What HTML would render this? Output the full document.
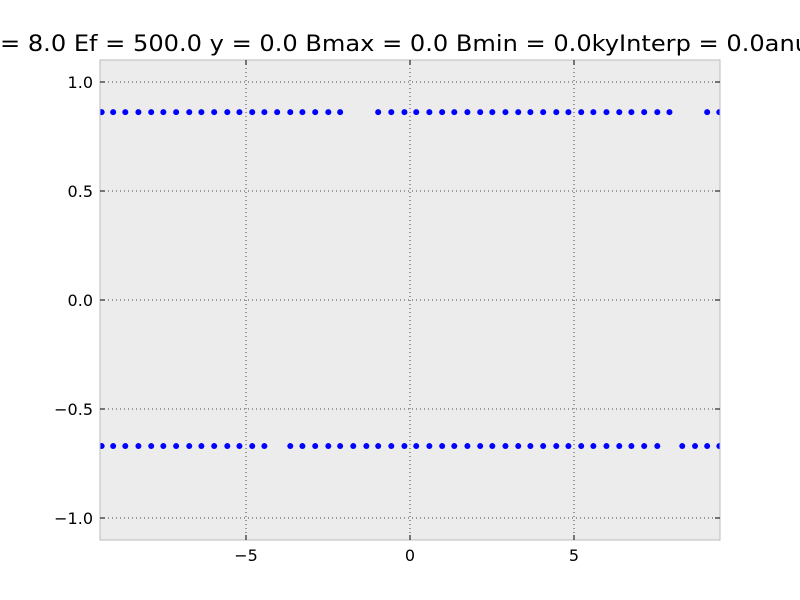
<!DOCTYPE html>
<html><head><meta charset="utf-8"><style>
html,body{margin:0;padding:0;background:#fff;}
svg{display:block;font-family:"DejaVu Sans","Liberation Sans",sans-serif;}
</style></head><body>
<svg id="chart" width="800" height="600" xmlns="http://www.w3.org/2000/svg">
<rect width="800" height="600" fill="#fff"/>
<text x="0" y="51" font-size="22" textLength="810" lengthAdjust="spacingAndGlyphs" fill="#000">= 8.0 Ef = 500.0 y = 0.0 Bmax = 0.0 Bmin = 0.0kyInterp = 0.0anu</text>
<rect x="100" y="60" width="620" height="480" fill="#ececec"/>
<g id="grid"></g>
<g id="dots"></g>
<rect x="100" y="60" width="620" height="480" fill="none" stroke="#bbb" stroke-width="1"/>
<g id="ticks"></g>
</svg>
<script>
const topX = [-9.40,-9.05,-8.68,-8.28,-7.89,-7.52,-7.13,-6.73,-6.36,-5.97,-5.57,-5.20,-4.81,-4.44,-4.05,-3.65,-3.28,-2.89,-2.49,-2.13,-0.97,-0.57,-0.17,0.19,0.59,0.98,1.35,1.75,2.14,2.51,2.91,3.30,3.67,4.06,4.46,4.83,5.22,5.59,5.99,6.38,6.75,7.14,7.54,7.91,9.06,9.43];
const topY = 0.862;
const botX = [-9.40,-9.05,-8.68,-8.28,-7.89,-7.52,-7.13,-6.73,-6.36,-5.97,-5.57,-5.20,-4.81,-4.44,-3.65,-3.28,-2.89,-2.49,-2.13,-1.73,-1.33,-0.97,-0.57,-0.17,0.19,0.59,0.98,1.35,1.75,2.14,2.51,2.91,3.30,3.67,4.06,4.46,4.83,5.22,5.59,5.99,6.38,6.75,7.14,7.54,8.30,8.69,9.06,9.43];
const botY = -0.67;
const xTicks = [-5, 0, 5];
const xTickLabels = ["\u22125", "0", "5"];
const yTicks = [1.0, 0.5, 0.0, -0.5, -1.0];
const yTickLabels = ["1.0", "0.5", "0.0", "\u22120.5", "\u22121.0"];

const NS = "http://www.w3.org/2000/svg";
const sx = v => 410 + v * 32.8;
const sy = v => 300 - v * 218;
function mk(tag, attrs, parent) {
  const e = document.createElementNS(NS, tag);
  for (const k in attrs) e.setAttribute(k, attrs[k]);
  parent.appendChild(e);
  return e;
}
const grid = document.getElementById('grid');
const ticks = document.getElementById('ticks');
const dots = document.getElementById('dots');
xTicks.forEach((t, i) => {
  const x = sx(t);
  const g = mk('line', {x1:x, x2:x, y1:60, y2:540, stroke:'#444', 'stroke-width':1, 'stroke-dasharray':'1,3'}, grid);
  
  
  mk('line', {x1:x, x2:x, y1:540, y2:535, stroke:'#000'}, ticks);
  mk('line', {x1:x, x2:x, y1:60, y2:65, stroke:'#000'}, ticks);
  const l = mk('text', {x:x, y:561, 'font-size':16, 'text-anchor':'middle'}, ticks);
  l.textContent = xTickLabels[i];
  
  
});
yTicks.forEach((t, i) => {
  const y = sy(t);
  const g = mk('line', {x1:100, x2:720, y1:y, y2:y, stroke:'#444', 'stroke-width':1, 'stroke-dasharray':'1,3'}, grid);
  
  
  mk('line', {x1:100, x2:105, y1:y, y2:y, stroke:'#000'}, ticks);
  mk('line', {x1:715, x2:720, y1:y, y2:y, stroke:'#000'}, ticks);
  const l = mk('text', {x:93, y:y + 6, 'font-size':16, 'text-anchor':'end'}, ticks);
  l.textContent = yTickLabels[i];
  
  
});
const clip = mk('clipPath', {id:'pc'}, document.getElementById('chart'));
mk('rect', {x:100, y:60, width:620, height:480}, clip);
dots.setAttribute('clip-path', 'url(#pc)');
topX.forEach(v => {
  const c = mk('circle', {cx:sx(v), cy:sy(topY), r:3, fill:'#0000ff'}, dots);
  
  
});
botX.forEach(v => {
  const c = mk('circle', {cx:sx(v), cy:sy(botY), r:3, fill:'#0000ff'}, dots);
  
  
});
</script>
</body></html>
